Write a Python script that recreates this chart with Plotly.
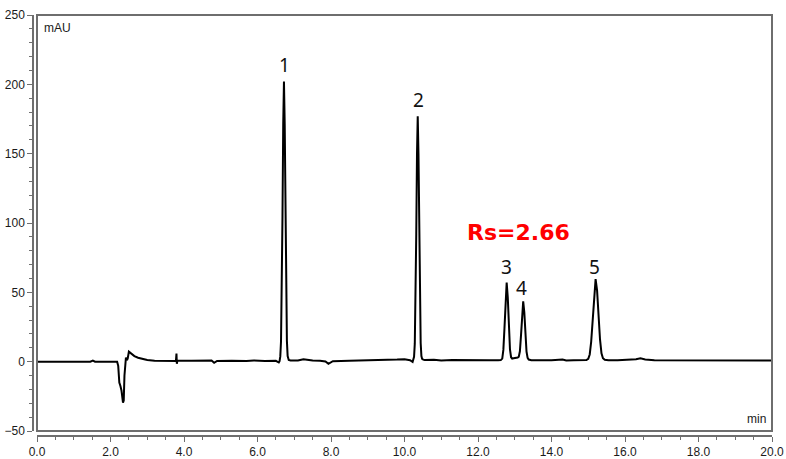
import plotly.graph_objects as go

# Chromatogram (time in min, signal in mAU)
time_min = [
    0.0, 0.5, 1.0, 1.45, 1.52, 1.58, 2.0, 2.18,
    2.21, 2.24, 2.27, 2.30, 2.34, 2.36, 2.38, 2.40, 2.42, 2.45, 2.47, 2.50, 2.53,
    2.58, 2.65, 2.75, 2.85, 3.0, 3.2, 3.5, 3.78, 3.795, 3.805, 3.82,
    4.2, 4.6, 4.75, 4.82, 4.9, 5.3, 5.7, 5.9, 6.2, 6.5, 6.58,
    6.60, 6.62, 6.64, 6.66, 6.68, 6.70, 6.72, 6.74, 6.76, 6.78, 6.80, 6.82, 6.85, 6.9,
    7.1, 7.25, 7.4, 7.5, 7.7, 7.85, 7.93, 8.05, 8.5, 9.0, 9.5, 9.8, 10.0, 10.15, 10.22,
    10.26, 10.28, 10.30, 10.32, 10.34, 10.36, 10.38, 10.40, 10.42, 10.44, 10.46, 10.48,
    10.51, 10.55, 10.8, 11.0, 11.3, 11.6, 12.0, 12.3, 12.55, 12.62,
    12.66, 12.69, 12.72, 12.75, 12.78, 12.81, 12.84, 12.87, 12.90, 12.93, 12.97, 13.01,
    13.05, 13.08, 13.11, 13.14, 13.17, 13.20, 13.23, 13.26, 13.29, 13.32, 13.35, 13.38,
    13.45, 13.8, 14.0, 14.3, 14.4, 14.6, 14.9, 14.95,
    15.00, 15.04, 15.08, 15.12, 15.16, 15.20, 15.24, 15.28, 15.32, 15.36, 15.40, 15.45,
    15.55, 15.8, 16.1, 16.3, 16.42, 16.55, 16.8, 17.2, 17.6, 18.0, 18.5, 19.0, 19.5, 20.0,
]
signal_mau = [
    0.0, 0.0, 0.0, 0.0, 0.8, 0.0, 0.0, 0.0,
    -3.0, -15.0, -17.5, -21.0, -29.5, -28.0, -10.0, 2.5, 3.0, 1.0, 2.5, 7.2, 6.5,
    5.2, 4.0, 2.8, 2.0, 1.2, 0.7, 0.5, 0.5, 5.8, -1.5, 0.8,
    0.7, 0.6, 0.8, -0.8, 0.5, 0.6, 0.4, 0.9, 0.4, 0.6, -0.6,
    0.3, 3.8, 14.7, 46.5, 105.0, 171.5, 202.0, 171.5, 105.0, 46.5, 15.0, 4.0, 1.2, 0.8,
    0.9, 1.8, 0.9, 0.8, 0.6, 0.2, -1.5, 0.3, 0.6, 0.8, 1.0, 1.5, 1.8, 1.0, -0.2,
    3.5, 13.0, 41.0, 92.0, 150.0, 177.0, 150.0, 92.0, 41.0, 13.5, 4.0, 2.0,
    1.5, 1.2, 1.3, 0.9, 1.2, 1.0, 1.1, 1.0, 1.0, 1.1,
    2.2, 8.5, 24.0, 46.5, 57.0, 46.5, 24.0, 8.8, 3.2, 2.2, 2.5, 2.7,
    2.6, 3.0, 3.6, 7.5, 19.0, 35.5, 43.5, 35.5, 19.0, 7.3, 2.7, 1.5,
    1.0, 0.9, 1.1, 1.5, 0.8, 1.0, 1.1, 1.2,
    2.0, 5.2, 14.5, 31.5, 50.5, 59.5, 51.5, 33.0, 16.0, 6.0, 2.5, 1.3,
    1.0, 1.0, 1.2, 1.8, 2.4, 1.6, 1.0, 1.0, 0.8, 0.9, 0.8, 1.0, 0.8, 0.9,
]

peak_labels = ["1", "2", "3", "4", "5"]
peak_times = [6.74, 10.38, 12.78, 13.19, 15.18]
peak_heights = [202.0, 177.0, 57.0, 43.5, 59.5]
label_shift = [17, 16, 16, 13, 12]

x_ticks = [0, 2, 4, 6, 8, 10, 12, 14, 16, 18, 20]
y_ticks = [-50, 0, 50, 100, 150, 200, 250]

W, H = 786, 459
plot_left, plot_right, plot_top, plot_bottom = 37, 772, 15, 431
yaxis_px, xaxis_px = 33, 436

axis_col = "#6e6e6e"
tick_font = dict(family="Liberation Sans, Arial, sans-serif", size=12, color="#1a1a1a")

fig = go.Figure()
fig.add_trace(go.Scatter(
    x=time_min, y=signal_mau, mode="lines",
    line=dict(color="#000000", width=2), hoverinfo="skip", showlegend=False,
))

for lab, t, h, s in zip(peak_labels, peak_times, peak_heights, label_shift):
    fig.add_annotation(x=t, y=h, text=lab, showarrow=False, yshift=s,
                       xanchor="center", yanchor="middle",
                       font=dict(family="Noto Sans, DejaVu Sans, sans-serif", size=19, color="#111111"))

fig.add_annotation(x=13.09, y=93, text="<b>Rs=2.66</b>", showarrow=False,
                   xanchor="center", yanchor="middle",
                   font=dict(family="DejaVu Sans, sans-serif", size=22, color="#ff0000"))

fig.add_annotation(xref="x domain", yref="y domain", x=0, y=1, text="mAU",
                   showarrow=False, xanchor="left", yanchor="top", xshift=5, yshift=-4,
                   font=tick_font)
fig.add_annotation(xref="x domain", yref="y domain", x=1, y=0, text="min",
                   showarrow=False, xanchor="right", yanchor="bottom", xshift=-4, yshift=3,
                   font=tick_font)

fig.add_shape(type="rect", xref="x domain", yref="y domain", x0=0, x1=1, y0=0, y1=1,
              line=dict(color=axis_col, width=2), fillcolor="rgba(0,0,0,0)", layer="above")

fig.update_layout(
    template="none",
    width=W, height=H,
    margin=dict(l=0, r=0, t=0, b=0, pad=0),
    paper_bgcolor="white", plot_bgcolor="white",
    xaxis=dict(
        automargin=False,
        domain=[plot_left / W, plot_right / W],
        range=[0, 20], anchor="free", position=(H - xaxis_px) / H,
        showgrid=False, zeroline=False, showline=True, linecolor=axis_col, linewidth=1.5,
        ticks="outside", ticklen=5, tickwidth=1.2, tickcolor=axis_col,
        tickvals=x_ticks, ticktext=[f"{v:.1f}" for v in x_ticks], tickfont=tick_font,
        minor=dict(dtick=0.5, ticks="outside", ticklen=3, tickwidth=1.2, tickcolor=axis_col),
        fixedrange=True,
    ),
    yaxis=dict(
        automargin=False,
        domain=[(H - plot_bottom) / H, (H - plot_top) / H],
        range=[-50, 250], anchor="free", position=yaxis_px / W,
        showgrid=False, zeroline=False, showline=True, linecolor=axis_col, linewidth=1.5,
        ticks="outside", ticklen=5, tickwidth=1.2, tickcolor=axis_col,
        tickvals=y_ticks, ticktext=[str(v).replace("-", "\u2212") for v in y_ticks],
        tickfont=tick_font,
        minor=dict(dtick=10, ticks="outside", ticklen=3, tickwidth=1.2, tickcolor=axis_col),
        fixedrange=True,
    ),
)

fig.write_html("out.html")
